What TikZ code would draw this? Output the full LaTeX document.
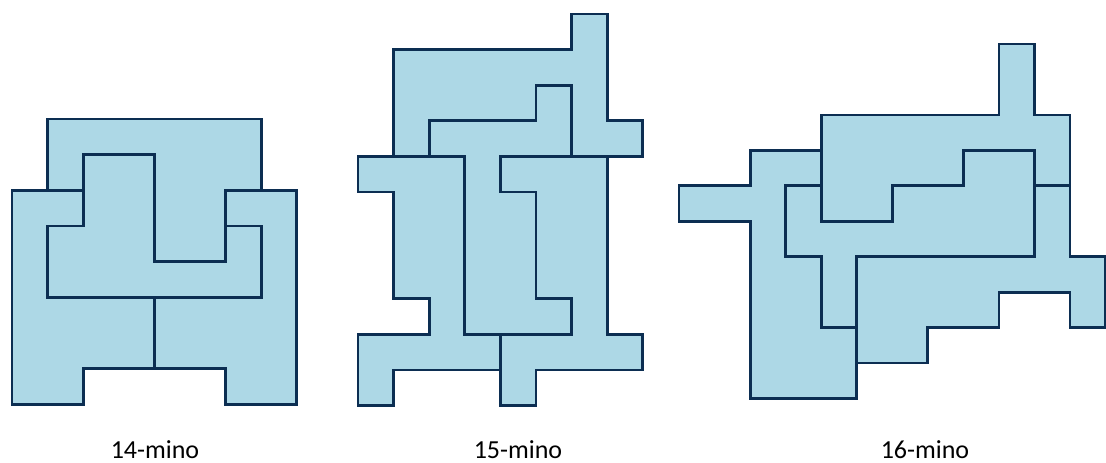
\documentclass[tikz,border=0pt]{standalone}
\usepackage{fontspec}
\setmainfont{Carlito}
\definecolor{pfill}{RGB}{173,216,230}
\definecolor{pline}{RGB}{12,46,82}
\tikzset{
  piece/.style={fill=pfill, draw=pline, line width=2.8pt, line join=miter},
  lbl/.style={font=\fontsize{26}{30}\selectfont, text=black, anchor=base}
}
\begin{document}
\begin{tikzpicture}[x=1pt,y=-1pt]
\useasboundingbox (0,0) rectangle (1106,463);
% 14-mino
\begin{scope}[shift={(12pt,-119pt)}, x=35.6pt, y=-35.65pt]
  \draw[piece] (1,0)--(7,0)--(7,2)--(6,2)--(6,4)--(4,4)--(4,1)--(2,1)--(2,2)--(1,2)--cycle;
  \draw[piece] (2,1)--(4,1)--(4,4)--(6,4)--(6,3)--(7,3)--(7,5)--(1,5)--(1,3)--(2,3)--cycle;
  \draw[piece] (0,2)--(2,2)--(2,3)--(1,3)--(1,5)--(4,5)--(4,7)--(2,7)--(2,8)--(0,8)--cycle;
  \draw[piece] (6,2)--(8,2)--(8,8)--(6,8)--(6,7)--(4,7)--(4,5)--(7,5)--(7,3)--(6,3)--cycle;
\end{scope}
% 15-mino
\begin{scope}[shift={(358pt,-14pt)}, x=35.6pt, y=-35.6pt]
  \draw[piece] (6,0)--(7,0)--(7,3)--(8,3)--(8,4)--(6,4)--(6,2)--(5,2)--(5,3)--(2,3)--(2,4)--(1,4)--(1,1)--(6,1)--cycle;
  \draw[piece] (2,3)--(5,3)--(5,2)--(6,2)--(6,4)--(4,4)--(4,5)--(5,5)--(5,8)--(6,8)--(6,9)--(3,9)--(3,4)--(2,4)--cycle;
  \draw[piece] (0,4)--(3,4)--(3,9)--(4,9)--(4,10)--(1,10)--(1,11)--(0,11)--(0,9)--(2,9)--(2,8)--(1,8)--(1,5)--(0,5)--cycle;
  \draw[piece] (4,4)--(7,4)--(7,9)--(8,9)--(8,10)--(5,10)--(5,11)--(4,11)--(4,9)--(6,9)--(6,8)--(5,8)--(5,5)--(4,5)--cycle;
\end{scope}
% 16-mino
\begin{scope}[shift={(679pt,-44pt)}, x=35.55pt, y=-35.45pt]
  \draw[piece] (4,2)--(9,2)--(9,0)--(10,0)--(10,2)--(11,2)--(11,4)--(10,4)--(10,3)--(8,3)--(8,4)--(6,4)--(6,5)--(4,5)--cycle;
  \draw[piece] (3,4)--(4,4)--(4,5)--(6,5)--(6,4)--(8,4)--(8,3)--(10,3)--(10,6)--(5,6)--(5,8)--(4,8)--(4,6)--(3,6)--cycle;
  \draw[piece] (0,4)--(2,4)--(2,3)--(4,3)--(4,4)--(3,4)--(3,6)--(4,6)--(4,8)--(5,8)--(5,10)--(2,10)--(2,5)--(0,5)--cycle;
  \draw[piece] (5,6)--(10,6)--(10,4)--(11,4)--(11,6)--(12,6)--(12,8)--(11,8)--(11,7)--(9,7)--(9,8)--(7,8)--(7,9)--(5,9)--cycle;
\end{scope}
\node[lbl] (l14) at (155,458) {14-mino};
\node[lbl] (l15) at (518,458) {15-mino};
\node[lbl] (l16) at (925,458) {16-mino};
\end{tikzpicture}
\end{document}
